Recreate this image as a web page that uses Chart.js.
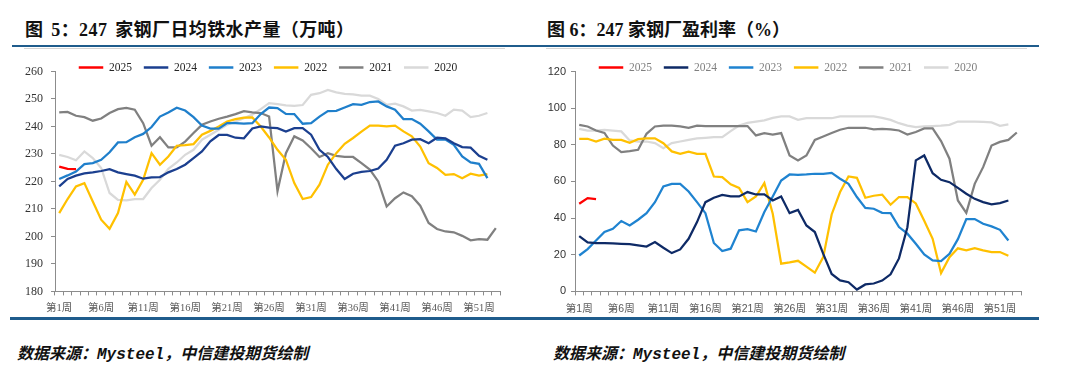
<!DOCTYPE html>
<html><head><meta charset="utf-8">
<script src="https://cdn.jsdelivr.net/npm/chart.js@4.4.1/dist/chart.umd.min.js"></script>
<style>
html,body{margin:0;padding:0;background:#fff;}
body{width:1080px;height:373px;position:relative;overflow:hidden;}
.title{position:absolute;top:15px;line-height:22px;font:bold 18px "Liberation Serif","Noto Sans CJK SC",serif;color:#111;white-space:nowrap;}
.rule{position:absolute;background:#1F5C8C;}
.thin{position:absolute;background:#d4d4d4;height:1px;}
.src{position:absolute;top:340px;line-height:20px;font:italic bold 16px "Liberation Mono","Noto Sans CJK SC",monospace;color:#111;white-space:nowrap;}
canvas{position:absolute;}
</style></head>
<body>
<div class="title" style="left:25px;word-spacing:3px;letter-spacing:0.4px">图 5：247 家钢厂日均铁水产量（万吨）</div>
<div class="title" style="left:547px">图 6：247 家钢厂盈利率（%）</div>
<div class="rule" style="left:12px;top:45px;width:1027px;height:2px"></div>
<div class="thin" style="left:24px;top:48px;width:481px"></div>
<div class="thin" style="left:546px;top:48px;width:481px"></div>
<div class="rule" style="left:10px;top:317px;width:1029px;height:3px"></div>
<canvas id="c1" width="540" height="272" style="left:0;top:50px"></canvas>
<canvas id="c2" width="500" height="272" style="left:540px;top:50px"></canvas>
<div class="src" style="left:17px">数据来源：Mysteel，中信建投期货绘制</div>
<div class="src" style="left:553px">数据来源：Mysteel，中信建投期货绘制</div>
<script>
// categories
const weeks = Array.from({length: 53}, (_, i) => '第' + (i + 1) + '周');
const shownTicks = ['第1周','第6周','第11周','第16周','第21周','第26周','第31周','第36周','第41周','第46周','第51周'];
const seriesNames = ['2025','2024','2023','2022','2021','2020'];

// Fig 5: daily hot metal output (10k t)
const iron2025 = [225.4, 224.6, 224.5];
const iron2024 = [218.2,220.9,222.1,222.9,223.3,223.8,224.5,223.3,222.7,222.1,221.0,221.5,221.6,223.3,224.5,226.1,228.5,230.9,234.6,236.9,236.9,235.9,235.7,239.3,240.0,239.6,239.4,238.2,239.4,239.4,237.0,231.5,228.9,224.5,220.9,222.8,223.5,223.8,224.7,227.9,233.0,233.9,235.2,235.4,233.9,235.9,235.7,233.9,232.5,232.3,229.3,227.9];
const iron2023 = [220.9,222.2,223.6,226.3,226.7,227.9,230.6,234.2,234.3,236.1,237.3,239.8,243.6,245.1,246.8,245.8,243.4,240.3,239.2,239.2,241.2,241.2,241.0,241.2,244.5,246.9,246.7,244.6,244.5,241.0,241.2,243.6,245.6,245.7,246.9,248.1,247.9,248.9,249.1,247.3,246.1,242.7,242.7,241.0,238.2,235.2,235.2,233.3,229.1,226.9,226.4,221.2];
const iron2022 = [208.5,213.6,218.2,219.4,212.7,206.1,202.8,208.5,219.8,215.2,220.6,230.3,226.1,229.1,233.0,233.2,233.6,237.0,238.4,240.0,241.8,242.7,243.2,243.3,240.0,236.0,231.5,227.9,219.4,213.6,214.3,218.8,226.1,230.3,233.7,235.8,238.1,240.3,240.3,240.0,240.3,238.2,236.4,232.7,226.6,224.9,222.4,222.7,221.2,222.8,222.1,222.7];
const iron2021 = [245.1,245.3,243.9,243.4,242.1,242.9,244.9,246.3,246.8,246.1,241.2,233.0,236.1,232.4,232.4,234.5,237.6,240.6,241.8,242.8,243.6,244.5,245.6,245.1,244.9,243.6,216.5,230.3,236.4,234.9,232.1,228.9,230.3,229.3,228.9,228.9,226.7,224.3,220.0,210.9,213.9,216.0,214.6,211.2,204.9,202.7,201.8,201.5,200.2,198.6,199.0,198.8,203.0];
const iron2020 = [229.7,228.9,227.7,230.9,228.5,224.9,215.8,213.3,213.1,213.6,213.6,217.6,220.6,224.6,226.9,229.7,231.5,235.2,237.0,238.8,240.6,241.8,243.0,244.3,246.3,248.5,248.1,247.7,247.5,247.8,251.5,252.1,253.3,252.4,251.9,251.7,251.2,251.2,250.0,247.9,248.3,247.3,245.8,246.0,245.5,244.9,243.9,246.1,245.8,243.4,243.9,244.9];

// Fig 6: profitability (%)
const profit2025 = [47.8, 50.9, 50.4];
const profit2024 = [30.2,26.7,26.4,26.4,26.2,26.0,25.8,25.1,24.5,26.9,23.8,20.9,22.9,28.7,37.8,48.7,51.1,52.7,51.8,51.8,54.2,52.9,52.9,49.6,51.8,42.7,44.5,36.0,32.4,20.5,9.5,6.0,5.0,1.0,3.8,4.3,5.9,9.3,18.0,35.0,71.5,74.2,64.5,60.9,59.6,56.5,53.3,50.5,48.7,47.5,48.2,49.6];
const profit2023 = [19.6,23.1,27.8,32.4,34.2,38.4,36.0,39.1,42.7,48.7,57.3,58.7,58.7,54.5,48.7,42.7,26.4,22.0,23.3,33.3,34.0,32.7,43.3,51.8,60.5,63.8,63.6,63.8,64.2,64.2,64.7,61.5,58.7,51.5,45.6,45.1,42.9,42.7,35.1,31.5,26.0,20.2,16.9,16.5,20.5,28.5,39.5,39.5,36.9,35.5,33.6,27.8];
const profit2022 = [83.3,83.3,81.8,83.3,82.7,82.7,81.1,83.1,83.5,83.5,80.9,76.4,75.1,76.2,75.1,75.1,62.7,62.4,58.4,56.5,48.7,51.8,59.1,42.4,15.1,15.8,16.7,13.5,10.2,18.7,42.0,54.2,62.7,62.0,51.1,52.2,52.8,47.3,51.5,51.5,48.0,38.5,28.7,10.0,18.7,23.5,22.4,23.6,22.4,21.5,21.5,19.5];
const profit2021 = [90.9,90.0,87.8,86.5,79.6,76.0,76.5,77.3,86.0,90.0,90.5,90.4,90.0,89.3,90.5,90.2,90.2,90.2,90.2,90.2,90.2,85.1,86.4,85.6,86.4,74.2,71.5,74.2,82.7,84.5,86.4,88.2,89.3,89.3,89.3,88.4,88.7,88.4,87.8,85.6,87.0,88.9,88.9,82.0,72.4,49.6,42.9,58.7,67.8,79.6,81.6,82.7,86.7];
const profit2020 = [88.7,87.8,87.8,88.2,87.8,87.3,82.4,81.8,81.8,80.9,78.2,80.9,81.8,82.7,83.5,83.8,84.2,84.2,87.5,90.5,92.0,92.7,93.3,94.7,95.5,95.5,93.6,94.5,94.5,94.5,94.5,95.5,95.5,95.5,95.5,95.5,94.7,93.6,91.8,90.5,89.6,90.0,90.2,90.4,90.9,92.7,92.7,92.7,92.5,92.2,90.4,91.1];

const SERIF = '"Liberation Serif","Noto Sans CJK SC",serif';
const SANS = '"Liberation Sans","Noto Sans CJK SC",sans-serif';
const AXIS = '#8c8c8c';

// shifts the centred legend row horizontally (legend sits over the plot's top edge as in the source)
const legendShift = {
  id: 'legendShift',
  afterLayout(chart, args, opts) {
    const dx = opts.dx || 0;
    if (chart.legend) { chart.legend.left += dx; chart.legend.right += dx; }
  }
};

function build(canvasId, series, colors, o) {
  const datasets = series.map((d, i) => ({
    label: seriesNames[i], data: d, borderColor: colors[i], backgroundColor: colors[i],
    borderWidth: 2.25, pointRadius: 0, pointHoverRadius: 0, tension: 0, fill: false
  }));
  return new Chart(document.getElementById(canvasId), {
    type: 'line',
    data: { labels: weeks, datasets },
    plugins: [legendShift],
    options: {
      responsive: false, animation: false, devicePixelRatio: 1,
      layout: { padding: { left: o.pl, right: o.pr, top: 0, bottom: 0 } },
      plugins: {
        tooltip: { enabled: false },
        legendShift: { dx: o.dx },
        legend: {
          display: true, position: 'top', align: 'center', maxHeight: 21.5,
          labels: {
            boxWidth: 24.5, boxHeight: 2.5, padding: 11.8,
            font: { family: SERIF, size: 11.5 }, color: o.legendColor,
            generateLabels: (chart) => chart.data.datasets.map((d, i) => ({
              text: d.label, fillStyle: d.borderColor, strokeStyle: d.borderColor,
              lineWidth: 0, hidden: false, datasetIndex: i, fontColor: o.legendColor
            }))
          }
        }
      },
      scales: {
        x: {
          type: 'category', offset: true,
          grid: { display: true, drawOnChartArea: false, drawTicks: true, tickLength: 4, color: AXIS, offset: true },
          border: { display: true, color: AXIS, width: 1 },
          ticks: {
            autoSkip: false, maxRotation: 0, minRotation: 0, padding: 7,
            font: { family: o.xFont, size: 10.5 }, color: '#595959',
            callback: function (v) { const l = this.getLabelForValue(v); return shownTicks.includes(l) ? l : ''; }
          }
        },
        y: {
          min: o.min, max: o.max,
          grid: { display: true, drawOnChartArea: false, drawTicks: true, tickLength: 4, color: AXIS },
          border: { display: true, color: AXIS, width: 1 },
          ticks: { stepSize: o.step, padding: o.ypad, font: { family: o.yFont, size: o.ySize }, color: '#333333' },
          afterFit: (s) => { s.width = o.yw; }
        }
      }
    }
  });
}

build('c1', [iron2025, iron2024, iron2023, iron2022, iron2021, iron2020],
  ['#FF0000', '#1B3F8F', '#1F7FCB', '#FFC000', '#808080', '#D9D9D9'],
  { pl: 10, pr: 40, yw: 45, dx: 13, min: 180, max: 260, step: 10, ypad: 8, yFont: SERIF, ySize: 12, xFont: SERIF, legendColor: '#262626' });

build('c2', [profit2025, profit2024, profit2023, profit2022, profit2021, profit2020],
  ['#FF0000', '#0E2A66', '#1F83D0', '#FFC000', '#808080', '#D9D9D9'],
  { pl: 5, pr: 19, yw: 30, dx: 5, min: 0, max: 120, step: 20, ypad: 5, yFont: SANS, ySize: 11, xFont: SANS, legendColor: '#808080' });
</script>
</body></html>
